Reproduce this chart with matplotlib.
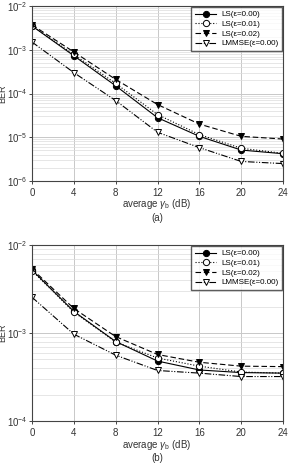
import matplotlib
matplotlib.use("Agg")
import matplotlib.pyplot as plt
from matplotlib.ticker import LogLocator, FixedLocator, NullFormatter

plt.rcParams['font.family'] = ['Liberation Sans', 'DejaVu Sans']
plt.rcParams['mathtext.fontset'] = 'custom'
plt.rcParams['mathtext.rm'] = 'Liberation Sans'
plt.rcParams['mathtext.it'] = 'Liberation Sans:italic'

snr = [0, 4, 8, 12, 16, 20, 24]
labels = ["LS(\u03b5=0.00)", "LS(\u03b5=0.01)", "LS(\u03b5=0.02)", "LMMSE(\u03b5=0.00)"]

a_ls0 = [3.5e-3, 7.3e-4, 1.5e-4, 2.8e-5, 1.05e-5, 5.1e-6, 4.2e-6]
a_ls1 = [3.5e-3, 7.8e-4, 1.7e-4, 3.3e-5, 1.15e-5, 5.6e-6, 4.3e-6]
a_ls2 = [3.7e-3, 8.9e-4, 2.1e-4, 5.6e-5, 2.0e-5, 1.05e-5, 9.1e-6]
a_lmmse = [1.5e-3, 3.0e-4, 6.9e-5, 1.3e-5, 5.8e-6, 2.8e-6, 2.5e-6]

b_ls0 = [5.2e-3, 1.76e-3, 8.0e-4, 4.8e-4, 3.8e-4, 3.55e-4, 3.5e-4]
b_ls1 = [5.1e-3, 1.73e-3, 7.9e-4, 5.2e-4, 4.2e-4, 3.6e-4, 3.5e-4]
b_ls2 = [5.35e-3, 1.9e-3, 9.1e-4, 5.7e-4, 4.65e-4, 4.2e-4, 4.15e-4]
b_lmmse = [2.55e-3, 9.7e-4, 5.6e-4, 3.75e-4, 3.5e-4, 3.2e-4, 3.2e-4]

styles = [
    dict(ls='-', marker='o', mfc='black', mec='black'),
    dict(ls=':', marker='o', mfc='white', mec='black'),
    dict(ls=(0, (5, 2.5)), marker='v', mfc='black', mec='black'),
    dict(ls=(0, (6, 1.5, 1, 1.5, 1, 1.5)), marker='v', mfc='white', mec='black'),
]

fig = plt.figure(figsize=(2.89, 4.69), dpi=100)
W, H = 289, 469

def make(ax, series, ylim, tag, xl_y, tag_y):
    for s, lab, st in zip(series, labels, styles):
        ax.plot(snr, s, color='black', lw=0.8, ms=4.5, mew=0.7, label=lab, **st)
    ax.set_yscale('log')
    ax.set_ylim(*ylim)
    ax.set_xlim(0, 24)
    ax.xaxis.set_major_locator(FixedLocator(snr))
    ax.yaxis.set_major_locator(LogLocator(base=10, numticks=10))
    ax.yaxis.set_minor_locator(LogLocator(base=10, subs=[2,3,4,5,6,7,8,9], numticks=20))
    ax.yaxis.set_minor_formatter(NullFormatter())
    ax.grid(True, which='major', color='#c8c8c8', lw=0.7)
    ax.grid(True, which='minor', axis='y', color='#dcdcdc', lw=0.5)
    ax.tick_params(which='major', length=2, width=0.7, color='#444444', labelsize=7, pad=3, labelcolor='#333333')
    ax.tick_params(which='minor', length=0)
    ax.tick_params(axis='y', pad=1.5)
    for sp in ax.spines.values():
        sp.set_color('#444444')
        sp.set_linewidth(0.8)
    leg = ax.legend(loc='upper right', fontsize=5.8, frameon=True, fancybox=False,
                    edgecolor='#333333', borderpad=0.5, handlelength=2.6,
                    labelspacing=0.25, handletextpad=0.6, borderaxespad=0.1)
    leg.get_frame().set_linewidth(1.0)
    fig.text(157 / W, 1 - xl_y / H, r'average $\gamma_\mathrm{b}$ (dB)', ha='center', va='center', fontsize=7, color='#333333')
    fig.text(157 / W, 1 - tag_y / H, tag, ha='center', va='center', fontsize=7, color='#333333')
    ax.set_ylabel('BER', fontsize=6.5, color='#333333')

ax1 = fig.add_axes([32 / W, 1 - 181 / H, 251 / W, 175 / H])
make(ax1, [a_ls0, a_ls1, a_ls2, a_lmmse], (1e-6, 1e-2), '(a)', 204, 218)
ax2 = fig.add_axes([32 / W, 1 - 421 / H, 251 / W, 176 / H])
make(ax2, [b_ls0, b_ls1, b_ls2, b_lmmse], (1e-4, 1e-2), '(b)', 445, 458)
for ax in (ax1, ax2):
    ax.yaxis.set_label_coords(-0.097, 0.5)

fig.savefig('out.png', dpi=100)
